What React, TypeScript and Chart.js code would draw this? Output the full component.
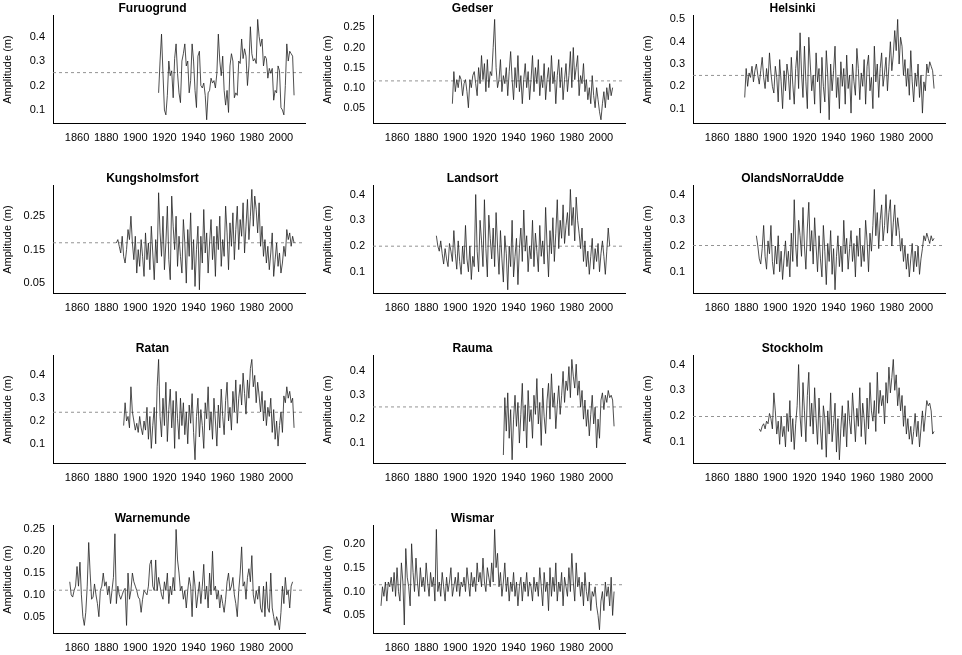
import React, { useEffect, useRef } from "react";
import { Chart, registerables } from "chart.js";
Chart.register(...registerables);

const stations = ["Furuogrund","Gedser","Helsinki","Kungsholmsfort","Landsort","OlandsNorraUdde","Ratan","Rauma","Stockholm","Warnemunde","Wismar"];
const startYears = [1916,1898,1879,1887,1887,1887,1892,1933,1889,1855,1849];

const furuogrund = [.17,.30,.41,.25,.10,.08,.16,.30,.24,.26,.15,.31,.37,.25,.17,.13,.30,.33,.37,.28,.30,.17,.22,.37,.30,.18,.11,.32,.34,.20,.19,.21,.16,.06,.17,.18,.23,.21,.22,.19,.25,.41,.30,.24,.32,.18,.12,.18,.09,.28,.33,.30,.15,.17,.16,.30,.29,.39,.31,.35,.32,.20,.28,.44,.33,.30,.31,.29,.47,.40,.36,.39,.28,.32,.31,.23,.27,.25,.27,.14,.18,.17,.28,.26,.11,.10,.08,.20,.37,.30,.34,.33,.32,.16];
const gedser = [.06,.14,.09,.12,.10,.13,.12,.08,.11,.12,.09,.05,.12,.10,.13,.14,.11,.08,.15,.11,.18,.12,.16,.09,.17,.10,.14,.13,.20,.27,.15,.10,.12,.17,.09,.13,.11,.15,.08,.14,.19,.12,.07,.15,.10,.18,.09,.13,.06,.12,.16,.10,.14,.07,.12,.18,.09,.15,.11,.17,.08,.13,.10,.16,.07,.12,.15,.09,.18,.11,.14,.06,.13,.17,.10,.15,.07,.12,.16,.09,.13,.19,.10,.20,.12,.15,.18,.08,.13,.11,.16,.09,.12,.07,.10,.06,.13,.08,.05,.10,.07,.04,.02,.06,.09,.05,.10,.07,.11,.08,.10];
const helsinki = [.15,.28,.20,.26,.24,.29,.22,.27,.30,.25,.21,.27,.33,.24,.19,.28,.22,.35,.26,.20,.17,.29,.24,.13,.32,.22,.10,.27,.18,.30,.25,.14,.33,.21,.12,.28,.36,.19,.44,.26,.15,.38,.22,.10,.42,.30,.18,.25,.12,.35,.22,.28,.08,.33,.20,.13,.36,.25,.05,.30,.18,.27,.38,.15,.24,.10,.31,.20,.28,.12,.34,.19,.25,.08,.30,.22,.16,.37,.28,.14,.26,.20,.32,.12,.29,.34,.18,.24,.10,.38,.22,.30,.15,.28,.35,.20,.26,.33,.18,.29,.40,.27,.34,.45,.36,.50,.30,.42,.38,.25,.32,.20,.28,.16,.36,.22,.13,.26,.20,.30,.15,.25,.08,.22,.18,.30,.26,.31,.29,.27,.19];
const kungsholmsfort = [.17,.18,.16,.14,.19,.13,.11,.15,.21,.18,.25,.17,.12,.19,.08,.15,.10,.18,.13,.07,.20,.12,.17,.09,.22,.14,.06,.18,.11,.32,.20,.13,.25,.09,.17,.28,.12,.06,.31,.22,.15,.25,.10,.19,.13,.08,.24,.17,.05,.21,.13,.26,.09,.18,.04,.15,.22,.03,.19,.11,.27,.14,.20,.08,.17,.24,.12,.19,.07,.22,.15,.25,.10,.18,.13,.28,.20,.09,.23,.16,.26,.12,.21,.28,.15,.24,.19,.29,.14,.22,.30,.18,.25,.33,.22,.31,.27,.20,.29,.16,.22,.13,.18,.11,.16,.09,.14,.20,.07,.12,.17,.10,.14,.08,.11,.16,.13,.21,.18,.20,.16,.19,.17];
const landsort = [.24,.20,.18,.22,.17,.13,.19,.15,.12,.21,.18,.14,.26,.17,.11,.22,.14,.09,.20,.13,.28,.15,.10,.20,.07,.16,.12,.40,.18,.10,.30,.22,.12,.38,.19,.08,.32,.23,.15,.27,.12,.33,.20,.09,.26,.15,.06,.24,.17,.03,.20,.12,.30,.08,.16,.23,.05,.19,.27,.14,.34,.18,.24,.10,.20,.15,.30,.12,.25,.18,.10,.28,.16,.22,.13,.35,.20,.08,.26,.17,.31,.14,.25,.38,.19,.30,.23,.36,.21,.28,.33,.24,.42,.28,.35,.22,.39,.30,.25,.19,.27,.14,.22,.12,.18,.09,.16,.23,.11,.19,.14,.21,.10,.17,.22,.16,.09,.18,.27,.20];
const olands = [.24,.20,.15,.13,.19,.28,.16,.11,.22,.17,.28,.14,.09,.20,.13,.24,.10,.18,.07,.15,.22,.12,.18,.08,.25,.14,.38,.20,.12,.30,.24,.16,.35,.20,.11,.27,.37,.18,.26,.13,.31,.20,.10,.24,.15,.08,.28,.18,.05,.21,.14,.26,.09,.19,.03,.16,.24,.12,.20,.10,.30,.17,.23,.11,.19,.26,.14,.21,.08,.24,.16,.27,.12,.20,.14,.30,.22,.10,.25,.18,.28,.42,.24,.33,.19,.30,.36,.22,.28,.40,.25,.33,.38,.20,.29,.36,.24,.31,.26,.18,.23,.14,.20,.11,.17,.08,.15,.21,.10,.18,.12,.20,.09,.15,.19,.24,.22,.25,.23,.21,.24,.22,.23];
const ratan = [.18,.28,.20,.22,.17,.35,.24,.20,.16,.19,.15,.22,.17,.14,.20,.16,.26,.12,.22,.08,.18,.26,.10,.35,.47,.22,.13,.30,.18,.37,.11,.25,.34,.17,.29,.08,.33,.21,.12,.30,.18,.28,.14,.24,.10,.27,.19,.32,.15,.03,.22,.30,.13,.25,.18,.08,.28,.21,.35,.16,.24,.12,.30,.20,.09,.27,.17,.34,.22,.14,.29,.37,.20,.26,.16,.33,.24,.38,.19,.30,.36,.27,.41,.32,.23,.38,.30,.43,.47,.35,.40,.28,.37,.31,.24,.33,.20,.29,.18,.26,.22,.30,.15,.25,.12,.20,.09,.18,.24,.15,.31,.28,.35,.30,.33,.28,.30,.17];
const rauma = [.05,.29,.15,.31,.12,.24,.03,.20,.30,.17,.27,.10,.22,.35,.15,.26,.08,.32,.19,.24,.12,.30,.22,.37,.18,.27,.09,.33,.21,.14,.28,.35,.20,.39,.25,.31,.16,.26,.34,.22,.30,.40,.27,.36,.32,.42,.29,.45,.38,.33,.43,.30,.36,.25,.32,.20,.28,.17,.24,.13,.22,.30,.18,.25,.08,.20,.12,.28,.31,.24,.30,.27,.32,.29,.30,.28,.17];
const stockholm = [.15,.14,.16,.17,.15,.18,.17,.21,.19,.15,.29,.22,.13,.18,.09,.20,.12,.16,.08,.21,.14,.26,.10,.19,.07,.17,.24,.40,.20,.12,.33,.22,.10,.28,.37,.16,.25,.13,.31,.19,.09,.27,.15,.07,.24,.19,.04,.22,.13,.29,.10,.17,.25,.06,.19,.03,.15,.24,.12,.21,.08,.26,.18,.13,.29,.20,.10,.23,.16,.31,.12,.25,.19,.09,.27,.15,.33,.22,.18,.26,.14,.37,.21,.30,.24,.28,.17,.33,.25,.39,.29,.35,.42,.30,.36,.24,.31,.22,.28,.16,.24,.13,.19,.11,.16,.09,.14,.21,.12,.18,.08,.15,.22,.14,.20,.26,.24,.25,.22,.13,.14];
const warnemunde = [.13,.10,.095,.11,.12,.165,.12,.175,.10,.05,.03,.06,.12,.22,.15,.09,.095,.125,.10,.08,.05,.11,.12,.15,.12,.13,.10,.12,.08,.11,.14,.24,.08,.12,.10,.09,.10,.11,.115,.03,.15,.09,.11,.15,.13,.12,.11,.095,.09,.06,.09,.11,.105,.10,.12,.17,.18,.12,.11,.18,.11,.14,.12,.10,.09,.13,.11,.15,.08,.12,.10,.14,.11,.25,.18,.15,.11,.12,.09,.11,.07,.11,.14,.12,.05,.155,.12,.07,.10,.13,.08,.12,.17,.09,.12,.07,.15,.10,.20,.11,.12,.09,.11,.07,.10,.08,.06,.09,.13,.15,.11,.12,.14,.10,.08,.05,.11,.15,.21,.12,.13,.09,.14,.16,.13,.19,.10,.08,.11,.09,.12,.07,.06,.12,.05,.13,.07,.06,.15,.07,.05,.03,.05,.04,.02,.06,.12,.08,.14,.10,.11,.07,.12,.13];
const wismar = [.07,.11,.09,.12,.08,.12,.11,.13,.10,.14,.09,.15,.10,.08,.16,.12,.03,.19,.13,.11,.07,.20,.14,.10,.17,.12,.09,.15,.11,.13,.10,.16,.12,.09,.14,.11,.13,.08,.23,.10,.12,.09,.14,.11,.08,.13,.10,.12,.15,.09,.11,.13,.10,.14,.09,.12,.11,.13,.10,.15,.12,.09,.14,.11,.13,.10,.16,.12,.14,.11,.17,.12,.10,.15,.13,.11,.16,.12,.23,.15,.18,.11,.14,.09,.12,.16,.10,.13,.08,.12,.10,.14,.09,.12,.07,.11,.13,.08,.12,.10,.14,.09,.12,.11,.08,.13,.10,.12,.09,.15,.11,.07,.14,.10,.12,.06,.15,.09,.13,.10,.16,.08,.12,.10,.14,.07,.13,.11,.09,.15,.10,.18,.12,.08,.16,.11,.13,.09,.12,.07,.14,.10,.08,.12,.06,.10,.09,.11,.07,.05,.02,.08,.10,.06,.12,.09,.11,.07,.13,.05,.10];

const seriesValues = [furuogrund,gedser,helsinki,kungsholmsfort,landsort,olands,ratan,rauma,stockholm,warnemunde,wismar];
const yTicks = [[.1,.2,.3,.4],[.05,.1,.15,.2,.25],[.1,.2,.3,.4,.5],[.05,.15,.25],[.1,.2,.3,.4],[.1,.2,.3,.4],[.1,.2,.3,.4],[.1,.2,.3,.4],[.1,.2,.3,.4],[.05,.1,.15,.2,.25],[.05,.1,.15,.2]];
const yDecimals = [1,2,1,2,1,1,1,1,1,2,2];
const xTicks = [1860,1880,1900,1920,1940,1960,1980,2000];
const X_MIN = 1843.5, X_MAX = 2016.5;

const FONT = "'Liberation Sans', Arial, sans-serif";

function Panel({ idx }: { idx: number }) {
  const ref = useRef<HTMLCanvasElement>(null);
  useEffect(() => {
    const vals = seriesValues[idx];
    const pts = vals.map((v, i) => ({ x: startYears[idx] + i, y: v }));
    const mean = vals.reduce((a, b) => a + b, 0) / vals.length;
    const mn = Math.min(...vals), mx = Math.max(...vals);
    const pad = (mx - mn) * 0.04;
    const ticks = yTicks[idx];
    const chart = new Chart(ref.current!, {
      type: "line",
      data: {
        datasets: [
          { data: pts, borderColor: "#222", borderWidth: 0.8, pointRadius: 0, tension: 0 },
          { data: [{ x: X_MIN, y: mean }, { x: X_MAX, y: mean }], borderColor: "#888", borderWidth: 0.9, borderDash: [3, 3], pointRadius: 0 },
        ],
      },
      options: {
        animation: false,
        responsive: false,
        layout: { padding: { top: 0, right: 15, bottom: 19, left: 0 } },
        plugins: {
          legend: { display: false },
          tooltip: { enabled: false },
          title: { display: true, text: stations[idx], color: "#000", font: { family: FONT, size: 12, weight: "bold" }, padding: { top: 4, bottom: 0 } },
        },
        scales: {
          x: {
            type: "linear", min: X_MIN, max: X_MAX,
            afterBuildTicks: (s: any) => { s.ticks = xTicks.map((v) => ({ value: v })); },
            ticks: { color: "#000", font: { family: FONT, size: 11 }, maxRotation: 0, padding: 3, callback: (v: any) => String(v) },
            grid: { display: false, drawTicks: true, tickLength: 5, tickColor: "#000" } as any,
            border: { color: "#000", width: 1 },
          },
          y: {
            type: "linear", min: mn - pad, max: mx + pad,
            afterBuildTicks: (s: any) => { s.ticks = ticks.map((v) => ({ value: v })); },
            afterFit: (s: any) => { s.width = 53; },
            ticks: { color: "#000", font: { family: FONT, size: 11 }, callback: (v: any) => Number(v).toFixed(yDecimals[idx]) },
            grid: { display: false, drawTicks: true, tickLength: 5, tickColor: "#000" } as any,
            border: { color: "#000", width: 1 },
            title: { display: true, text: "Amplitude (m)", color: "#000", font: { family: FONT, size: 11 }, padding: 1 },
          },
        },
      },
    } as any);
    return () => chart.destroy();
  }, [idx]);
  return <canvas ref={ref} width={320} height={170} style={{ display: "block" }} />;
}

export default function App() {
  useEffect(() => { document.body.style.margin = "0"; }, []);
  return (
    <div style={{ width: 962, height: 655, overflow: "hidden", background: "#fff" }}>
      <div style={{ display: "grid", gridTemplateColumns: "320px 320px 320px", marginTop: -3 }}>
        {stations.map((_, i) => <Panel key={i} idx={i} />)}
      </div>
    </div>
  );
}
